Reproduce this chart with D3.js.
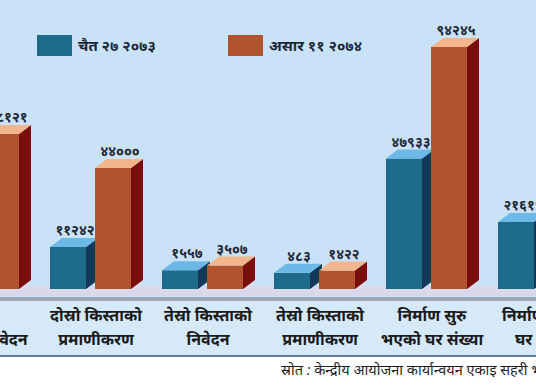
<!DOCTYPE html>
<html>
<head>
<meta charset="utf-8">
<script src="https://cdn.jsdelivr.net/npm/d3@7"></script>
<style>
  body { margin: 0; background: #fff; }
  svg text { font-family: "Noto Sans", "DejaVu Sans", sans-serif; }
</style>
</head>
<body>
<div id="chart"></div>
<script>
var width = 536;
var height = 386;

// data
var catLine1 = ["", "दोस्रो किस्ताको", "तेस्रो किस्ताको", "तेस्रो किस्ताको", "निर्माण सुरु", "निर्माण सम्पन्न"];
var catLine2 = ["पहिलो निवेदन", "प्रमाणीकरण", "निवेदन", "प्रमाणीकरण", "भएको घर संख्या", "घर संख्या"];
var categories = catLine1.map((d, i) => d + " " + catLine2[i]);
var chaitra = [52000, 11242, 1557, 483, 47933, 21619];   // first one is off the picture
var asar = [58121, 44000, 3507, 1422, 94245, 40000];      // last one is off the picture
var seriesNames = ["चैत २७ २०७३", "असार ११ २०७४"];

var floorY = 289;
var barW = 36, depth = 12, lift = 9;

var colors = [
  { front: "#1d6a8a", side: "#0c3a58", top: "#6cb8e6" },
  { front: "#b1532f", side: "#7d0c0c", top: "#f3b68c" }
];

// devanagari digits
function dev(n) {
  return String(n).replace(/[0-9]/g, c => "०१२३४५६७८९"[+c]);
}

var svg = d3.select("#chart").append("svg")
  .attr("width", width)
  .attr("height", height);

// background
svg.append("rect").attr("width", width).attr("height", 300).attr("fill", "#c9e2f7");
svg.append("rect").attr("y", floorY - 3).attr("width", width).attr("height", 10).attr("fill", "#dad8ea");
svg.append("rect").attr("y", 297).attr("width", width).attr("height", 4).attr("fill", "#9ea9b3");
svg.append("rect").attr("y", 301).attr("width", width).attr("height", 54).attr("fill", "#d6e9f8");
svg.append("rect").attr("y", 355).attr("width", width).attr("height", 2).attr("fill", "#5c7f90");

var x = d3.scaleBand()
  .domain(categories)
  .range([-62, -62 + 112 * categories.length])
  .paddingInner(0);

var y = d3.scaleLinear()
  .domain([0, 94245])
  .range([274, 47]);

function drawBar(g, x0, v, c) {
  var top = y(v);
  g.append("rect")
    .attr("x", x0).attr("y", top)
    .attr("width", barW).attr("height", floorY - top)
    .attr("fill", c.front);
  g.append("path")
    .attr("d", `M${x0 + barW},${top}L${x0 + barW + depth},${top - lift}L${x0 + barW + depth},${floorY - lift}L${x0 + barW},${floorY}Z`)
    .attr("fill", c.side);
  g.append("path")
    .attr("d", `M${x0},${top}L${x0 + depth},${top - lift}L${x0 + barW + depth},${top - lift}L${x0 + barW},${top}Z`)
    .attr("fill", c.top);
  g.append("text")
    .attr("x", x0 + barW / 2 + depth / 2 + 1)
    .attr("y", top - lift - 3)
    .attr("text-anchor", "middle")
    .attr("font-size", 14)
    .attr("font-weight", "bold")
    .attr("fill", "#1b2838")
    .text(dev(v));
}

var groups = svg.selectAll("g.grp")
  .data(categories)
  .join("g")
  .attr("class", "grp");

groups.each(function(d, i) {
  var g = d3.select(this);
  var x0 = x(d);
  drawBar(g, x0, chaitra[i], colors[0]);
  drawBar(g, x0 + 45, asar[i], colors[1]);
  g.append("text")
    .attr("x", x0 + 46)
    .attr("y", 321)
    .attr("text-anchor", "middle")
    .attr("font-size", 16)
    .attr("font-weight", "bold")
    .attr("fill", "#1a1a1a")
    .text(catLine1[i]);
  g.append("text")
    .attr("x", x0 + 46)
    .attr("y", 345)
    .attr("text-anchor", "middle")
    .attr("font-size", 16)
    .attr("font-weight", "bold")
    .attr("fill", "#1a1a1a")
    .text(catLine2[i]);
});

// legend
var legendX = [37, 228];
seriesNames.forEach((name, i) => {
  svg.append("rect")
    .attr("x", legendX[i]).attr("y", 35)
    .attr("width", 35).attr("height", 21)
    .attr("fill", colors[i].front);
  svg.append("text")
    .attr("x", legendX[i] + 41).attr("y", 51)
    .attr("font-size", 15)
    .attr("font-weight", "bold")
    .attr("fill", "#1b2838")
    .text(name);
});

// source
svg.append("text")
  .attr("x", 281).attr("y", 375)
  .attr("font-size", 14.5)
  .attr("font-style", "italic")
  .attr("fill", "#1e1e1e")
  .text("स्रोत : केन्द्रीय आयोजना कार्यान्वयन एकाइ सहरी भवन");
</script>
</body>
</html>
